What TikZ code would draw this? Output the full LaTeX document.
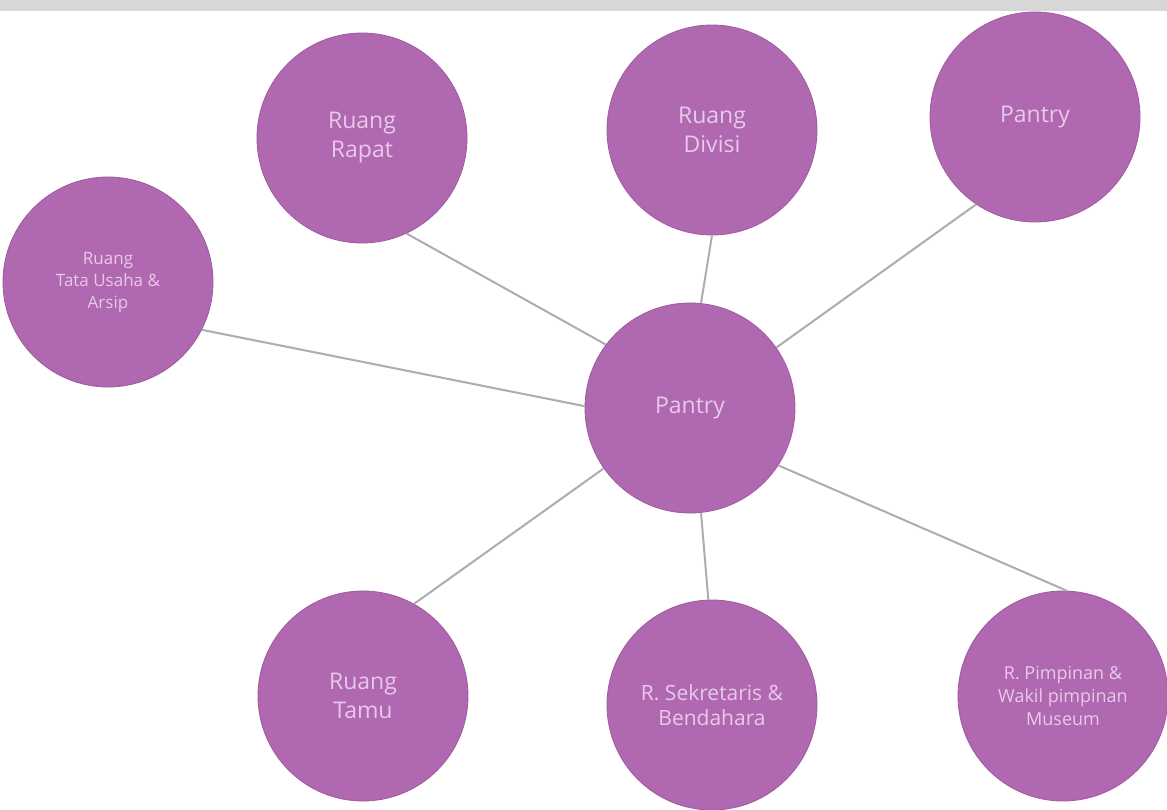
\documentclass[tikz,border=0pt]{standalone}
\usepackage{fontspec}
\setmainfont{Open Sans}
\definecolor{bubble}{HTML}{B068B0}
\definecolor{bubbleedge}{HTML}{9E5AA0}
\definecolor{bubbletext}{HTML}{E9C9EB}
\definecolor{link}{HTML}{ADADAD}
\definecolor{band}{HTML}{D7D7D7}
\tikzset{
  room/.style={circle, minimum size=210pt, inner sep=0pt, fill=bubble, draw=bubbleedge, line width=0.8pt, text=bubbletext, align=center},
  big/.style={font=\fontsize{23}{29}\selectfont},
  mid/.style={font=\fontsize{21}{25}\selectfont},
  small/.style={font=\fontsize{17}{22}\selectfont},
  tiny/.style={font=\fontsize{18}{23}\selectfont},
  linkline/.style={draw=link, line width=2pt}
}
\begin{document}
\begin{tikzpicture}[x=1pt,y=-1pt]
\useasboundingbox (0,0) rectangle (1167,810);
\fill[white] (0,0) rectangle (1167,810);
\fill[band] (0,0) rectangle (1167,11);
\node[room, big] (rapat) at (362,138) {Ruang\\Rapat};
\node[room, big] (divisi) at (712,130) {Ruang\\Divisi};
\node[room, big] (pantry2) at (1035,117) {Pantry};
\node[room, small] (tata) at (108,282) {Ruang\\Tata Usaha \&\\Arsip};
\node[room, big] (pantry) at (690,408) {Pantry};
\node[room, big] (tamu) at (363,696) {Ruang\\Tamu};
\node[room, mid] (sek) at (712,705) {R. Sekretaris \&\\Bendahara};
\node[room, tiny] (pim) at (1063,696) {R. Pimpinan \&\\Wakil pimpinan\\Museum};
\draw[linkline] (rapat.-65) -- (pantry.143);
\draw[linkline] (divisi.-90) -- (pantry.84);
\draw[linkline] (pantry2.-124) -- (pantry.35);
\draw[linkline] (tata.-27) -- (pantry.179);
\draw[linkline] (tamu.61) -- (pantry.-145);
\draw[linkline] (sek.92) -- (pantry.-84);
\draw[linkline] (pim.88) -- (pantry.-33);
\end{tikzpicture}
\end{document}
